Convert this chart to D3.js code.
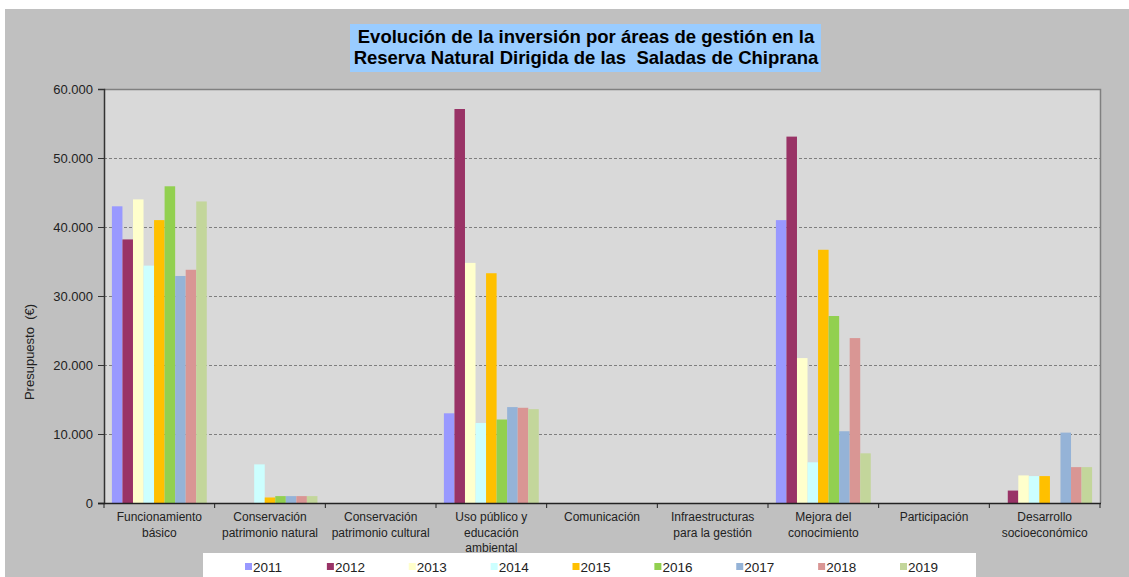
<!DOCTYPE html>
<html>
<head>
<meta charset="utf-8">
<script src="https://cdn.jsdelivr.net/npm/d3@7"></script>
<style>
  body { margin: 0; background: #fff; }
  svg { display: block; font-family: "Liberation Sans", Arial, sans-serif; }
</style>
</head>
<body>
<div id="chart"></div>
<script>
var categories = [
  ["Funcionamiento", "básico"],
  ["Conservación", "patrimonio natural"],
  ["Conservación", "patrimonio cultural"],
  ["Uso público y", "educación", "ambiental"],
  ["Comunicación"],
  ["Infraestructuras", "para la gestión"],
  ["Mejora del", "conocimiento"],
  ["Participación"],
  ["Desarrollo", "socioeconómico"]
];
var years = ["2011", "2012", "2013", "2014", "2015", "2016", "2017", "2018", "2019"];
var colors = ["#9999ff", "#993366", "#ffffcc", "#ccffff", "#ffc000", "#92d050", "#95b3d7", "#d99694", "#c3d69b"];

// one array per year, one value per category
var v2011 = [43000, 0, 0, 13000, 0, 0, 41000, 0, 0];
var v2012 = [38200, 0, 0, 57100, 0, 0, 53100, 0, 1800];
var v2013 = [44000, 0, 0, 34800, 0, 0, 21000, 0, 4000];
var v2014 = [34400, 5600, 0, 11600, 0, 0, 5900, 0, 3900];
var v2015 = [41000, 800, 0, 33300, 0, 0, 36700, 0, 3900];
var v2016 = [45900, 1000, 0, 12100, 0, 0, 27100, 0, 0];
var v2017 = [32900, 1000, 0, 13900, 0, 0, 10400, 0, 10200];
var v2018 = [33800, 1000, 0, 13800, 0, 0, 23900, 0, 5200];
var v2019 = [43700, 1000, 0, 13600, 0, 0, 7200, 0, 5200];
var series = [v2011, v2012, v2013, v2014, v2015, v2016, v2017, v2018, v2019];

var yTicks = [0, 10000, 20000, 30000, 40000, 50000, 60000];
var title = ["Evolución de la inversión por áreas de gestión en la",
             "Reserva Natural Dirigida de las  Saladas de Chiprana"];
var yLabel = "Presupuesto  (€)";

var W = 1129, H = 577;
var plot = {left: 104, top: 89, right: 1100, bottom: 503};

var es = d3.formatLocale({decimal: ",", thousands: ".", grouping: [3], currency: ["", " €"]});
var fmt = es.format(",.0f");

var svg = d3.select("#chart").append("svg")
    .attr("width", W)
    .attr("height", H);

svg.append("rect")
    .attr("x", 5).attr("y", 9)
    .attr("width", W - 5).attr("height", H - 9)
    .attr("fill", "#c0c0c0");

svg.append("rect")
    .attr("x", plot.left).attr("y", plot.top)
    .attr("width", plot.right - plot.left).attr("height", plot.bottom - plot.top)
    .attr("fill", "#d9d9d9");

var x0 = d3.scaleBand()
    .domain(d3.range(categories.length))
    .range([plot.left, plot.right])
    .padding(0);

// Excel style gap: 150% of a bar width between clusters
var barW = x0.bandwidth() / (years.length + 1.5);
var x1 = d3.scaleBand()
    .domain(years)
    .range([barW * 0.75, barW * 0.75 + barW * years.length])
    .padding(0);

var y = d3.scaleLinear()
    .domain([0, 60000])
    .range([plot.bottom, plot.top]);

// gridlines
svg.append("g")
    .selectAll("line")
    .data(yTicks.filter(function (d) { return d > 0 && d < 60000; }))
    .enter()
    .append("line")
    .attr("x1", plot.left).attr("x2", plot.right)
    .attr("y1", function (d) { return Math.round(y(d)) + 0.5; })
    .attr("y2", function (d) { return Math.round(y(d)) + 0.5; })
    .attr("stroke", "#7f7f7f")
    .attr("stroke-dasharray", "3,2")
    .attr("stroke-width", 1);

// plot border top / right
svg.append("path")
    .attr("d", "M" + plot.left + "," + (plot.top + 0.5) + "H" + (plot.right + 0.5) + "V" + plot.bottom)
    .attr("fill", "none")
    .attr("stroke", "#808080")
    .attr("stroke-width", 1.5);

// bars
var groups = svg.append("g")
    .selectAll("g")
    .data(series)
    .enter()
    .append("g")
    .attr("fill", function (d, i) { return colors[i]; });

groups.selectAll("rect")
    .data(function (d, i) {
        return d.map(function (v, j) { return {year: years[i], cat: j, value: v}; });
    })
    .enter()
    .append("rect")
    .filter(function (d) { return d.value > 0; })
    .attr("x", function (d) { return x0(d.cat) + x1(d.year); })
    .attr("y", function (d) { return y(d.value); })
    .attr("width", x1.bandwidth())
    .attr("height", function (d) { return y(0) - y(d.value); });

// y axis
var yAxis = d3.axisLeft(y)
    .tickValues(yTicks)
    .tickSize(6)
    .tickPadding(5)
    .tickFormat(function (d) { return fmt(d); });

var yG = svg.append("g")
    .attr("transform", "translate(" + plot.left + ",0)")
    .call(yAxis);
yG.select(".domain").attr("stroke", "#333").attr("stroke-width", 1.5);
yG.selectAll(".tick line").attr("stroke", "#333");
yG.selectAll(".tick text")
    .attr("fill", "#222")
    .style("font-size", "13px")
    .style("font-family", "Liberation Sans, Arial, sans-serif");

// x axis (ticks between categories)
var xTickPos = d3.range(categories.length + 1).map(function (i) {
    return i < categories.length ? x0(i) : plot.right;
});
svg.append("line")
    .attr("x1", plot.left - 6).attr("x2", plot.right + 1)
    .attr("y1", plot.bottom + 0.5).attr("y2", plot.bottom + 0.5)
    .attr("stroke", "#222").attr("stroke-width", 1.5);
svg.append("g")
    .selectAll("line")
    .data(xTickPos)
    .enter()
    .append("line")
    .attr("x1", function (d) { return d; })
    .attr("x2", function (d) { return d; })
    .attr("y1", plot.bottom)
    .attr("y2", plot.bottom + 5)
    .attr("stroke", "#222");

var xLabels = svg.append("g")
    .selectAll("text")
    .data(categories)
    .enter()
    .append("text")
    .attr("text-anchor", "middle")
    .attr("font-size", 12)
    .attr("fill", "#222")
    .attr("transform", function (d, i) {
        return "translate(" + (x0(i) + x0.bandwidth() / 2) + "," + (plot.bottom + 18) + ")";
    });
xLabels.selectAll("tspan")
    .data(function (d) { return d; })
    .enter()
    .append("tspan")
    .attr("x", 0)
    .attr("y", function (d, i) { return i * 15.5; })
    .text(function (d) { return d; });

// y label
svg.append("text")
    .attr("transform", "translate(34," + 352 + ") rotate(-90)")
    .attr("text-anchor", "middle")
    .attr("font-size", 13)
    .attr("fill", "#222")
    .style("white-space", "pre")
    .text(yLabel);

// title
svg.append("rect")
    .attr("x", 350).attr("y", 24)
    .attr("width", 471).attr("height", 48)
    .attr("fill", "#99ccff");
svg.append("g")
    .selectAll("text")
    .data(title)
    .enter()
    .append("text")
    .attr("x", 586)
    .attr("y", function (d, i) { return 43 + i * 21; })
    .attr("text-anchor", "middle")
    .attr("font-size", 18.5)
    .attr("font-weight", "bold")
    .attr("fill", "#000")
    .style("white-space", "pre")
    .text(function (d) { return d; });

// legend
var legend = svg.append("g");
legend.append("rect")
    .attr("x", 203).attr("y", 553)
    .attr("width", 773).attr("height", H - 553)
    .attr("fill", "#fff");

var legX = d3.scalePoint()
    .domain(years)
    .range([245, 900]);

var item = legend.selectAll("g.item")
    .data(years)
    .enter()
    .append("g")
    .attr("class", "item")
    .attr("transform", function (d) { return "translate(" + legX(d) + ",567)"; });
item.append("rect")
    .attr("x", 0).attr("y", -4)
    .attr("width", 7).attr("height", 7)
    .attr("fill", function (d, i) { return colors[i]; });
item.append("text")
    .attr("x", 8)
    .attr("y", 5)
    .attr("font-size", 13.5)
    .attr("fill", "#222")
    .text(function (d) { return d; });
</script>
</body>
</html>
